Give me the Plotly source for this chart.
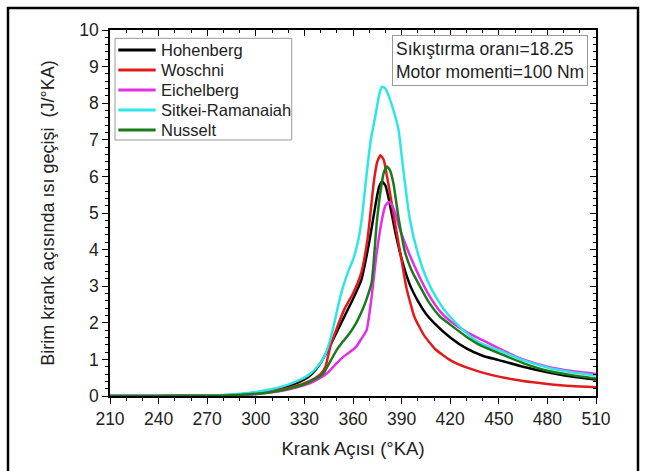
import plotly.graph_objects as go

# ---- data ----
x_hoh = [210, 240, 270, 285, 300, 310, 320, 330, 335, 340, 345, 350, 355, 360, 365, 370, 374, 376, 378, 380, 382, 386, 390, 395, 400, 405, 410, 420, 430, 440, 450, 465, 480, 495, 510]
y_hoh = [0, 0, 0.01, 0.03, 0.09, 0.16, 0.27, 0.45, 0.62, 0.9, 1.3, 1.75, 2.2, 2.65, 3.15, 4.2, 5.25, 5.7, 5.86, 5.75, 5.4, 4.5, 3.75, 3.05, 2.6, 2.25, 2.0, 1.6, 1.3, 1.1, 0.98, 0.8, 0.65, 0.53, 0.45]

x_wos = [210, 240, 270, 285, 300, 310, 320, 330, 335, 340, 343, 346, 350, 355, 360, 365, 369, 373, 375, 377, 379, 381, 383, 386, 390, 393, 398, 404, 411, 420, 430, 440, 450, 465, 480, 495, 510]
y_wos = [0, 0, 0.01, 0.03, 0.07, 0.13, 0.22, 0.35, 0.45, 0.6, 0.8, 1.35, 1.85, 2.4, 2.8, 3.35, 4.3, 5.9, 6.4, 6.58, 6.45, 6.0, 5.5, 4.7, 3.7, 2.95, 2.15, 1.65, 1.27, 0.98, 0.78, 0.64, 0.53, 0.41, 0.33, 0.27, 0.24]

x_eic = [210, 240, 270, 285, 300, 310, 320, 330, 335, 340, 344, 350, 354, 358, 362, 365, 368.4, 371.5, 374.6, 378, 380, 382, 384, 386, 389, 395, 401, 407, 414, 420, 430, 438, 450, 465, 480, 495, 510]
y_eic = [0, 0, 0.01, 0.02, 0.05, 0.1, 0.18, 0.3, 0.38, 0.5, 0.62, 0.9, 1.07, 1.2, 1.35, 1.55, 1.8, 2.71, 3.9, 4.85, 5.2, 5.3, 5.22, 5.0, 4.55, 3.85, 3.26, 2.75, 2.3, 2.05, 1.75, 1.57, 1.3, 1.0, 0.8, 0.68, 0.6]

x_sit = [210, 240, 270, 285, 300, 310, 320, 330, 334, 338, 342, 345, 348, 351, 354, 357, 360, 363, 365.3, 368, 371, 374, 376.5, 378, 380, 382, 384, 388, 391, 395, 400, 405, 410, 418, 428, 438, 450, 465, 480, 495, 510]
y_sit = [0, 0, 0.01, 0.04, 0.11, 0.19, 0.31, 0.5, 0.62, 0.8, 1.05, 1.4, 1.9, 2.5, 3.0, 3.4, 3.72, 4.2, 4.81, 5.9, 7.0, 7.7, 8.3, 8.45, 8.4, 8.2, 7.95, 7.3, 6.2, 4.85, 3.9, 3.25, 2.8, 2.26, 1.8, 1.46, 1.25, 0.98, 0.78, 0.65, 0.56]

x_nus = [210, 240, 270, 285, 300, 310, 320, 330, 336, 341.7, 346, 350, 354, 358, 362, 365.3, 368, 371.5, 374.6, 377, 379, 381, 383, 385, 388, 392, 396, 401.4, 407, 413.7, 420, 430, 438.4, 450, 465, 480, 495, 510]
y_nus = [0, 0, 0.01, 0.02, 0.06, 0.11, 0.2, 0.32, 0.45, 0.62, 0.95, 1.26, 1.5, 1.72, 2.0, 2.3, 2.6, 3.1, 4.7, 5.6, 6.1, 6.27, 6.15, 5.8, 4.9, 3.95, 3.45, 2.99, 2.55, 2.17, 1.95, 1.62, 1.39, 1.17, 0.9, 0.69, 0.57, 0.48]

series_names = ["Hohenberg", "Woschni", "Eichelberg", "Sitkei-Ramanaiah", "Nusselt"]
series_x = [x_hoh, x_wos, x_eic, x_sit, x_nus]
series_y = [y_hoh, y_wos, y_eic, y_sit, y_nus]
series_colors = ["#000000", "#e31a1c", "#e62ee6", "#2ee6e6", "#1b7a1b"]

x_ticks = [210, 240, 270, 300, 330, 360, 390, 420, 450, 480, 510]
y_ticks = list(range(0, 11))

FONT = "Liberation Sans, Arial, sans-serif"
TXT = "#222222"

fig = go.Figure()
for name, xs, ys, col in zip(series_names, series_x, series_y, series_colors):
    fig.add_trace(go.Scatter(x=xs, y=ys, name=name, mode="lines", showlegend=False,
                             line=dict(color=col, width=2.5, shape="spline", smoothing=0.5)))

axis_common = dict(showline=True, linecolor="black", linewidth=1.5, showgrid=False, zeroline=False,
                   tickfont=dict(family=FONT, size=17.5, color=TXT), tickcolor="black")

fig.update_layout(
    width=646, height=471,
    margin=dict(l=110, r=50, t=30, b=75),
    paper_bgcolor="white", plot_bgcolor="white",
    font=dict(family=FONT, color=TXT),
    showlegend=False,
    xaxis=dict(range=[210, 510], tickvals=x_ticks, ticks="outside", ticklen=6,
               minor=dict(dtick=10, ticks="outside", ticklen=3, tickcolor="black"),
               title=dict(text="Krank Açısı (°KA)", font=dict(family=FONT, size=18.5, color=TXT), standoff=14),
               **axis_common),
    yaxis=dict(range=[0, 10], tickvals=y_ticks, ticks="outside", ticklen=6,
               minor=dict(dtick=0.2, ticks="outside", ticklen=3, tickcolor="black"),
               title=dict(text="Birim krank açısında ısı geçişi  (J/°KA)", font=dict(family=FONT, size=18, color=TXT), standoff=20),
               **axis_common),
    xaxis2=dict(range=[210, 510], overlaying="x", side="top", showticklabels=False,
                tickvals=x_ticks, ticks="inside", ticklen=6,
                minor=dict(dtick=10, ticks="inside", ticklen=3, tickcolor="black"),
                **axis_common),
    yaxis2=dict(range=[0, 10], overlaying="y", side="right", showticklabels=False,
                tickvals=y_ticks, ticks="inside", ticklen=6,
                minor=dict(dtick=0.2, ticks="inside", ticklen=3, tickcolor="black"),
                **axis_common),
)

# invisible trace to activate the mirror axes
fig.add_trace(go.Scatter(x=[210], y=[0], xaxis="x2", yaxis="y2", mode="markers",
                         marker=dict(opacity=0), showlegend=False, hoverinfo="skip"))

# legend box (compact, like the original)
fig.add_shape(type="rect", xref="paper", yref="paper", x0=0.0103, x1=0.3739, y0=0.6995, y1=0.9773,
              line=dict(color="#999", width=1), fillcolor="white", layer="above")
leg_y = [0.9454, 0.8907, 0.8361, 0.7814, 0.7268]
for name, col, yy in zip(series_names, series_colors, leg_y):
    fig.add_shape(type="line", xref="paper", yref="paper", x0=0.0171, x1=0.0940, y0=yy, y1=yy,
                  line=dict(color=col, width=3), layer="above")
    fig.add_annotation(xref="paper", yref="paper", x=0.1000, y=yy, xanchor="left", yanchor="middle",
                       text=name, showarrow=False, font=dict(family=FONT, size=16.5, color=TXT))

# annotation box
fig.add_annotation(xref="paper", yref="paper", x=0.984, y=0.985, xanchor="right", yanchor="top",
                   text="Sıkıştırma oranı=18.25<br>Motor momenti=100 Nm", showarrow=False, align="left",
                   font=dict(family=FONT, size=17.5, color=TXT), bgcolor="white",
                   bordercolor="#999", borderwidth=1, borderpad=3)

# outer frame of the image
fig.add_shape(type="path", xref="paper", yref="paper",
              path="M -0.2099,-0.3 L -0.2099,1.0601 L 1.0864,1.0601 L 1.0864,-0.3",
              line=dict(color="black", width=2.5))

fig.write_html("out.html")
